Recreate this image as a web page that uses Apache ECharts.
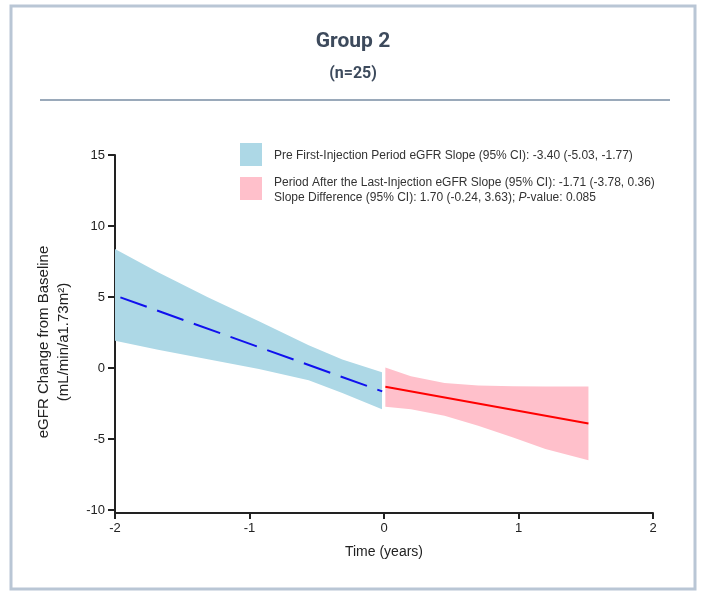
<!DOCTYPE html>
<html>
<head>
<meta charset="utf-8">
<script src="https://cdn.jsdelivr.net/npm/echarts@6/dist/echarts.min.js"></script>
<style>
  html, body { margin: 0; padding: 0; background: #fff; }
  #chart { width: 706px; height: 597px; }
</style>
</head>
<body>
<div id="chart"></div>
<script>
// 轴刻度
const xTicks = [-2, -1, 0, 1, 2]
const yTicks = [-10, -5, 0, 5, 10, 15]

// 首针前时期：置信带 + 斜率线
const preX = [-2, -1.68, -1.31, -0.93, -0.56, -0.31, -0.015]
const preUpper = [8.38, 6.74, 4.98, 3.3, 1.6, 0.6, -0.3]
const preLower = [1.92, 1.3, 0.63, -0.07, -0.85, -1.75, -2.89]
const preLine = [[-1.96, 4.98], [-0.013, -1.64]]

// 末针后时期
const postX = [0.01, 0.2, 0.45, 0.7, 0.96, 1.2, 1.52]
const postUpper = [0.05, -0.58, -1.05, -1.23, -1.28, -1.29, -1.29]
const postLower = [-2.72, -2.89, -3.36, -4.06, -4.88, -5.7, -6.48]
const postLine = [[0.01, -1.31], [1.52, -3.9]]

const preName = 'Pre First-Injection Period eGFR Slope (95% CI): -3.40 (-5.03, -1.77)'
const postName = 'Period After the Last-Injection eGFR Slope (95% CI): -1.71 (-3.78, 0.36)'
const diffText = 'Slope Difference (95% CI): 1.70 (-0.24, 3.63); {i|P}-value: 0.085'

function bandSeries(name, xs, up, lo, color) {
  const data = xs.map((x, i) => [x, up[i], lo[i]])
  return {
    name: name,
    type: 'custom',
    itemStyle: { color: color },
    data: data,
    renderItem(params, api) {
      if (params.dataIndex !== 0) return
      const top = data.map(d => api.coord([d[0], d[1]]))
      const bot = data.map(d => api.coord([d[0], d[2]])).reverse()
      return {
        type: 'polygon',
        shape: { points: top.concat(bot) },
        style: { fill: color }
      }
    },
    z: 1
  }
}

const chart = echarts.init(document.getElementById('chart'))
const font = 'Liberation Sans, Arial, sans-serif'

chart.setOption({
  animation: false,
  textStyle: { fontFamily: font },
  title: {
    text: 'Group 2',
    subtext: '(n=25)',
    left: 'center',
    top: 26,
    itemGap: 14,
    textStyle: { fontFamily: 'Roboto, sans-serif', fontSize: 21, fontWeight: 'bold', color: '#3d4a5c' },
    subtextStyle: { fontFamily: 'Roboto, sans-serif', fontSize: 16, fontWeight: 'bold', color: '#3d4a5c' }
  },
  graphic: [
    { type: 'rect', shape: { x: 11, y: 6, width: 684, height: 583 },
      style: { fill: null, stroke: '#b9c6d5', lineWidth: 3 } },
    { type: 'line', shape: { x1: 40, y1: 100, x2: 670, y2: 100 },
      style: { stroke: '#9aa9ba', lineWidth: 2 } }
  ],
  legend: {
    orient: 'vertical',
    left: 235,
    top: 138,
    itemWidth: 22,
    itemHeight: 23,
    itemGap: 6,
    icon: 'rect',
    data: [preName, postName],
    formatter(name) {
      return name === postName ? name + '\n' + diffText : name
    },
    textStyle: {
      fontSize: 12, color: '#333', lineHeight: 15, fontFamily: font, padding: [3, 0, 0, 7],
      rich: { i: { fontStyle: 'italic', fontSize: 12, color: '#333', lineHeight: 15, fontFamily: font } }
    }
  },
  grid: { left: 115, right: 53, top: 155, bottom: 84 },
  xAxis: {
    type: 'value',
    min: xTicks[0], max: xTicks[xTicks.length - 1], interval: 1,
    name: 'Time (years)',
    nameLocation: 'middle',
    nameGap: 32,
    nameTextStyle: { fontSize: 14, color: '#222' },
    axisLine: { onZero: false, lineStyle: { color: '#222', width: 2 } },
    axisTick: { length: 6, lineStyle: { color: '#222', width: 2 } },
    axisLabel: { fontSize: 13, color: '#222', margin: 9 },
    splitLine: { show: false }
  },
  yAxis: {
    type: 'value',
    min: -10.2, max: yTicks[yTicks.length - 1],
    name: 'eGFR Change from Baseline\n(mL/min/a1.73m²)',
    nameLocation: 'middle',
    nameRotate: 90,
    nameGap: 41,
    nameTextStyle: { fontSize: 15, color: '#222', lineHeight: 20, padding: [0, 16, 0, 0] },
    axisLine: { onZero: false, lineStyle: { color: '#222', width: 2 } },
    axisTick: { length: 7, customValues: yTicks, lineStyle: { color: '#222', width: 2 } },
    axisLabel: { fontSize: 13, color: '#222', margin: 10, customValues: yTicks },
    splitLine: { show: false }
  },
  series: [
    bandSeries(preName, preX, preUpper, preLower, '#add8e6'),
    bandSeries(postName, postX, postUpper, postLower, '#ffc0cb'),
    {
      type: 'line', data: preLine, symbol: 'none', z: 3,
      lineStyle: { color: '#1010ee', width: 2, type: [28, 11] }
    },
    {
      type: 'line', data: postLine, symbol: 'none', z: 3,
      lineStyle: { color: '#ff0000', width: 2 }
    }
  ]
})
</script>
</body>
</html>
